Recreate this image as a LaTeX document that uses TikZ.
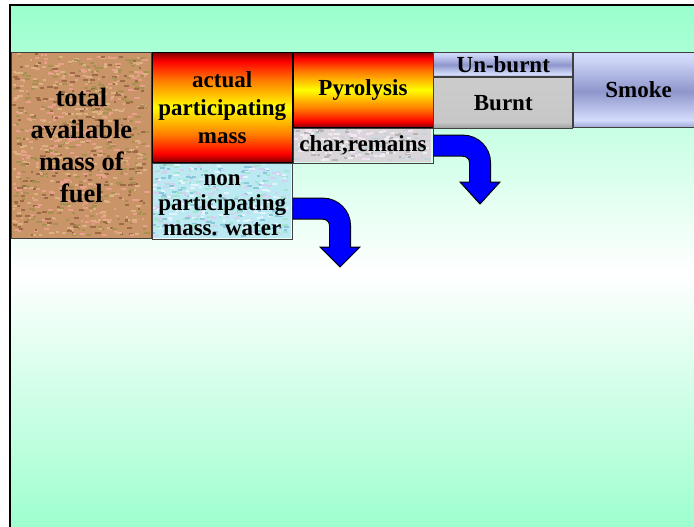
\documentclass[tikz,border=0pt]{standalone}
\usepackage{fontspec}
\setmainfont{Liberation Serif}
\usetikzlibrary{positioning}
\definecolor{Mint}{HTML}{99FFCC}
\definecolor{FuelBrown}{HTML}{C99468}
\definecolor{WaterBlue}{HTML}{BCEAF2}
\definecolor{CharGrey}{HTML}{D9D5D9}
\definecolor{ArrowBlue}{HTML}{0000FF}
\definecolor{DarkFire}{HTML}{800000}
\definecolor{SteelLo}{HTML}{8E96CC}
\definecolor{SteelHi}{HTML}{D4DCFC}
% speckle colours
\definecolor{fuA}{HTML}{E8A08C}\definecolor{fuB}{HTML}{9C6A44}
\definecolor{fuC}{HTML}{DDB282}\definecolor{fuD}{HTML}{A89050}
\definecolor{waA}{HTML}{E4F4FF}\definecolor{waB}{HTML}{8CC8DC}
\definecolor{waC}{HTML}{D4D0F0}\definecolor{waD}{HTML}{A4E4D0}
\definecolor{chA}{HTML}{F2E4F2}\definecolor{chB}{HTML}{B4B4B4}
\definecolor{chC}{HTML}{EEEEEE}\definecolor{chD}{HTML}{C4D4DC}
\pgfmathdeclarerandomlist{fuelspk}{{fuA}{fuB}{fuC}{fuD}}
\pgfmathdeclarerandomlist{waterspk}{{waA}{waB}{waC}{waD}}
\pgfmathdeclarerandomlist{charspk}{{chA}{chB}{chC}{chD}}
\pgfdeclareverticalshading{fire}{100bp}{color(0bp)=(DarkFire); color(25bp)=(DarkFire);
  color(29bp)=(red); color(38bp)=(orange); color(50bp)=(yellow); color(62bp)=(orange);
  color(71bp)=(red); color(75bp)=(DarkFire); color(100bp)=(DarkFire)}
\pgfdeclareverticalshading{steel}{100bp}{color(0bp)=(SteelLo!75!SteelHi); color(25bp)=(SteelLo!75!SteelHi);
  color(30bp)=(SteelHi); color(49bp)=(SteelLo); color(70bp)=(SteelHi!90!SteelLo); color(75bp)=(SteelHi);
  color(100bp)=(SteelHi)}
\pgfdeclareverticalshading{burnt}{100bp}{color(0bp)=(black!38); color(25bp)=(black!38);
  color(31bp)=(black!22); color(75bp)=(black!20); color(100bp)=(black!20)}
% \speckle{list}{x0}{y0}{w}{h}{count}
\newcommand\speckle[6]{%
  \foreach \i in {1,...,#6} {%
    \pgfmathrandomitem{\spc}{#1}%
    \pgfmathsetmacro\spx{#2+rnd*(#4-6)}%
    \pgfmathsetmacro\spy{#3+rnd*(#5-3)}%
    \pgfmathsetmacro\spw{2+rnd*4}%
    \fill[\spc] (\spx,\spy) rectangle +(\spw,2);
  }}

\begin{document}
\begin{tikzpicture}[x=1pt, y=-1pt, font=\bfseries\fontsize{23}{28}\selectfont,
  b/.style={rectangle, draw=black!75, line width=0.8pt, inner sep=0pt, align=center,
    anchor=north west, minimum width=140pt},
  hot/.style={b, draw=black, shading=fire},
  shaft/.style={line width=22pt, draw=black, rounded corners=17pt},
  shaftin/.style={line width=20pt, draw=ArrowBlue, rounded corners=17pt},
  headtri/.style={fill=ArrowBlue, draw=black, line width=1pt, line join=miter}]
  \useasboundingbox (0,0) rectangle (694,527);
  \clip (0,0) rectangle (694,527);
  \pgfmathsetseed{4242}
  % slide background and frame
  \shade[top color=Mint, bottom color=Mint, middle color=white] (10,5) rectangle (720,540);
  \draw[line width=1.5pt] (10,540) -- (10,5) -- (720,5);
  % textured fills first, then the boxes with their text on top
  \fill[FuelBrown] (11,52) rectangle (151,238);
  \speckle{fuelspk}{12}{53}{139}{185}{900}
  \fill[WaterBlue] (151,162) rectangle (291,238);
  \speckle{waterspk}{152}{163}{139}{75}{420}
  \fill[CharGrey] (291,127) rectangle (431,162);
  \speckle{charspk}{292}{128}{139}{34}{200}
  % mass blocks
  \node[b, minimum height=186pt, font=\bfseries\fontsize{26.5}{32}\selectfont]
    (fuel) at (11,52) {total\\available\\mass of\\fuel};
  \node[hot, minimum height=110pt] (act) at (fuel.north east) {actual\\participating\\mass};
  \node[b, minimum height=76pt, font=\bfseries\fontsize{23}{25}\selectfont]
    (non) at (act.south west) {\rule{0pt}{19pt}non\\participating\\mass. water};
  \node[hot, minimum height=75pt] (pyro) at (act.north east) {Pyrolysis};
  \node[b, minimum height=35pt] (char) at (pyro.south west) {char,remains};
  \node[b, shading=steel, minimum width=139pt, minimum height=24pt] (unb) at (pyro.north east) {Un-burnt};
  \node[b, shading=burnt, minimum width=139pt, minimum height=51pt] (brn) at (unb.south west) {Burnt};
  \node[b, shading=steel, minimum width=130pt, minimum height=75pt] (smk) at (unb.north east) {Smoke};
  % bent arrows
  \coordinate (hb1) at (480,182); \coordinate (t1) at (480,204);
  \coordinate (hb2) at (340,247); \coordinate (t2) at (340,267);
  \coordinate (s2) at ([yshift=-7.5pt]non.east);
  \draw[shaft] (char.east) -| (hb1);
  \draw[headtri] ([xshift=-20pt]hb1) -- ([xshift=20pt]hb1) -- (t1) -- cycle;
  \draw[shaftin] (char.east) -| ([yshift=-1pt]hb1);
  \draw[shaft] (s2) -| (hb2);
  \draw[headtri] ([xshift=-20pt]hb2) -- ([xshift=20pt]hb2) -- (t2) -- cycle;
  \draw[shaftin] (s2) -| ([yshift=-1pt]hb2);
\end{tikzpicture}
\end{document}
